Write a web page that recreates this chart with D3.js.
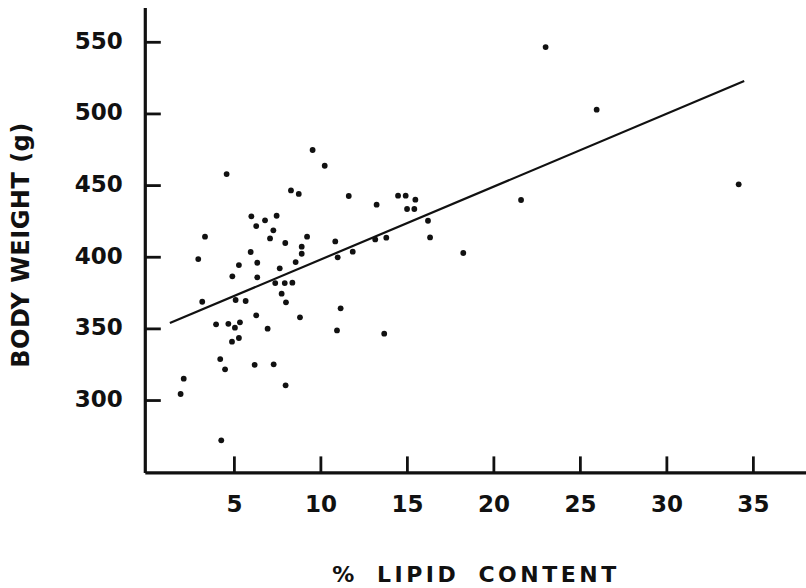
<!DOCTYPE html>
<html>
<head>
<meta charset="utf-8">
<script src="https://cdn.jsdelivr.net/npm/d3@7"></script>
<style>
  body { margin: 0; background: #fff; }
  svg { display: block; }
  .tick text { font-family: "DejaVu Sans", sans-serif; font-weight: bold; font-size: 23px; fill: #111; }
  .axis-title { font-family: "DejaVu Sans", sans-serif; font-weight: bold; fill: #111; }
</style>
</head>
<body>
<div id="chart"></div>
<script>
// % lipid content vs body weight (g)
var lipid = [9.55, 10.25, 4.58, 3.33, 2.94, 8.30, 8.75, 6.01, 6.80, 7.47,
  6.29, 7.28, 7.09, 7.97, 9.23, 8.92, 8.92, 10.86, 11.0, 5.97,
  5.29, 6.35, 8.57, 7.65, 4.91, 6.35, 7.39, 7.94, 8.38, 3.17,
  5.10, 5.68, 7.76, 8.01, 6.29, 8.82, 11.17, 3.97, 4.68, 5.35,
  5.06, 6.95, 10.96, 4.89, 5.29, 4.21, 4.49, 6.20, 7.30, 2.10,
  1.92, 7.99, 4.27, 11.64, 14.49, 14.93, 15.49, 15.01, 15.43, 13.25,
  16.22, 16.34, 13.81, 13.17, 11.87, 18.26, 13.69, 23.02, 25.97, 21.60,
  34.18];
var weight = [474.5, 463.5, 457.7, 414.0, 398.4, 446.3, 443.8, 428.2, 425.4, 428.6,
  421.4, 418.4, 412.8, 409.6, 414.0, 407.0, 402.1, 410.7, 399.6, 403.3,
  394.2, 395.8, 396.3, 391.9, 386.3, 385.6, 381.6, 381.6, 381.9, 368.6,
  369.8, 369.1, 374.2, 368.2, 359.1, 357.7, 364.0, 352.8, 353.2, 354.2,
  350.5, 349.8, 348.6, 340.7, 343.3, 328.6, 321.4, 324.6, 324.9, 314.9,
  304.2, 310.3, 271.9, 442.4, 442.6, 442.6, 439.8, 433.3, 433.3, 436.3,
  425.1, 413.5, 413.3, 412.1, 403.5, 402.6, 346.3, 546.3, 502.6, 439.6,
  450.5];
var fitLine = [[1.3, 353.7], [34.5, 522.6]];
var xTicks = [5, 10, 15, 20, 25, 30, 35];
var yTicks = [300, 350, 400, 450, 500, 550];

var width = 806, height = 588;

var svg = d3.select("#chart").append("svg")
  .attr("width", width)
  .attr("height", height);

var x = d3.scaleLinear().domain([-0.15, 38.1]).range([144.8, 806.5]);
var y = d3.scaleLinear().domain([249.5, 574]).range([472.4, 7.4]);

// y axis
var yAxis = svg.append("g")
  .attr("transform", "translate(" + x(-0.15) + ",0)")
  .call(d3.axisLeft(y).tickValues(yTicks).tickSizeInner(-16).tickSizeOuter(0).tickPadding(22));

// x axis
var xAxis = svg.append("g")
  .attr("transform", "translate(0," + y(249.5) + ")")
  .call(d3.axisBottom(x).tickValues(xTicks).tickSizeInner(-16).tickSizeOuter(0).tickPadding(23));

[yAxis, xAxis].forEach(function(ax) {
  ax.select(".domain").attr("stroke", "#111").attr("stroke-width", 3.2);
  ax.selectAll(".tick line").attr("stroke", "#111").attr("stroke-width", 2.8);
});
yAxis.selectAll(".tick text").attr("dy", "0.28em");
xAxis.selectAll(".tick text").attr("dy", "0.71em");

// regression line
svg.append("path")
  .datum(fitLine)
  .attr("fill", "none")
  .attr("stroke", "#111")
  .attr("stroke-width", 2.2)
  .attr("d", d3.line().x(function(d) { return x(d[0]); }).y(function(d) { return y(d[1]); }));

// points
svg.append("g").selectAll("circle")
  .data(d3.range(lipid.length))
  .enter().append("circle")
  .attr("cx", function(i) { return x(lipid[i]); })
  .attr("cy", function(i) { return y(weight[i]); })
  .attr("r", 2.9)
  .attr("fill", "#111");

// axis titles
svg.append("text")
  .attr("class", "axis-title")
  .attr("x", 476)
  .attr("y", 582)
  .attr("text-anchor", "middle")
  .style("font-size", "22px")
  .style("letter-spacing", "3.5px")
  .style("word-spacing", "8px")
  .text("% LIPID CONTENT");

svg.append("text")
  .attr("class", "axis-title")
  .attr("transform", "translate(29,245) rotate(-90)")
  .attr("text-anchor", "middle")
  .style("font-size", "24px")
  .style("letter-spacing", "0.5px")
  .text("BODY WEIGHT (g)");
</script>
</body>
</html>
